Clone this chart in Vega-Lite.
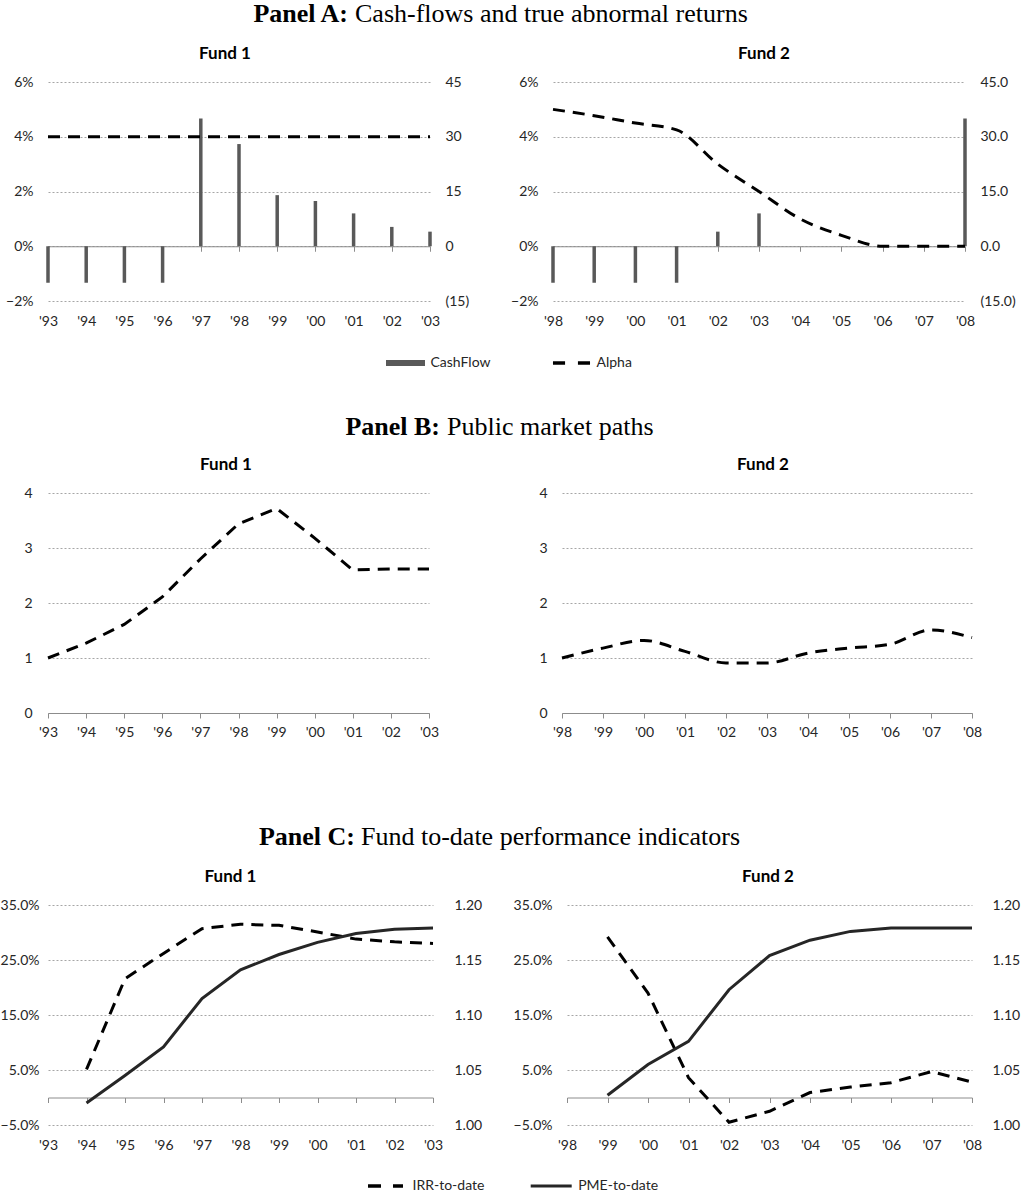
{
  "$schema": "https://vega.github.io/schema/vega-lite/v6.json",
  "background": "white",
  "padding": 0,
  "autosize": {"type": "pad"},
  "spacing": 0,
  "resolve": {"scale": {"shape": "independent", "color": "independent", "x": "independent"}},
  "datasets": {
    "a1": [
      {"year": 1993, "cf": -10, "alpha": 0.04},
      {"year": 1994, "cf": -10, "alpha": 0.04},
      {"year": 1995, "cf": -10, "alpha": 0.04},
      {"year": 1996, "cf": -10, "alpha": 0.04},
      {"year": 1997, "cf": 35, "alpha": 0.04},
      {"year": 1998, "cf": 28, "alpha": 0.04},
      {"year": 1999, "cf": 14, "alpha": 0.04},
      {"year": 2000, "cf": 12.4, "alpha": 0.04},
      {"year": 2001, "cf": 9, "alpha": 0.04},
      {"year": 2002, "cf": 5.3, "alpha": 0.04},
      {"year": 2003, "cf": 4, "alpha": 0.04}
    ],
    "a2": [
      {"year": 1998, "cf": -10, "alpha": 0.05},
      {"year": 1999, "cf": -10, "alpha": 0.0477},
      {"year": 2000, "cf": -10, "alpha": 0.045},
      {"year": 2001, "cf": -10, "alpha": 0.0425},
      {"year": 2002, "cf": 4, "alpha": 0.03},
      {"year": 2003, "cf": 9, "alpha": 0.02},
      {"year": 2004, "cf": 0, "alpha": 0.01},
      {"year": 2005, "cf": 0, "alpha": 0.004},
      {"year": 2006, "cf": 0, "alpha": 0},
      {"year": 2007, "cf": 0, "alpha": 0},
      {"year": 2008, "cf": 35, "alpha": 0}
    ],
    "b1": [
      {"year": 1993, "v": 1.0},
      {"year": 1994, "v": 1.27},
      {"year": 1995, "v": 1.61},
      {"year": 1996, "v": 2.11},
      {"year": 1997, "v": 2.8},
      {"year": 1998, "v": 3.44},
      {"year": 1999, "v": 3.72},
      {"year": 2000, "v": 3.18},
      {"year": 2001, "v": 2.6},
      {"year": 2002, "v": 2.62},
      {"year": 2003, "v": 2.62}
    ],
    "b2": [
      {"year": 1998, "v": 1.0},
      {"year": 1999, "v": 1.18},
      {"year": 2000, "v": 1.32},
      {"year": 2001, "v": 1.12},
      {"year": 2002, "v": 0.91},
      {"year": 2003, "v": 0.91},
      {"year": 2004, "v": 1.09},
      {"year": 2005, "v": 1.18},
      {"year": 2006, "v": 1.25},
      {"year": 2007, "v": 1.51},
      {"year": 2008, "v": 1.37}
    ],
    "c1": [
      {"year": 1994, "irr": 0.051, "pme": 1.020},
      {"year": 1995, "irr": 0.216, "pme": 1.045},
      {"year": 1996, "irr": 0.262, "pme": 1.071},
      {"year": 1997, "irr": 0.307, "pme": 1.115},
      {"year": 1998, "irr": 0.315, "pme": 1.141},
      {"year": 1999, "irr": 0.313, "pme": 1.155},
      {"year": 2000, "irr": 0.301, "pme": 1.166},
      {"year": 2001, "irr": 0.288, "pme": 1.174},
      {"year": 2002, "irr": 0.283, "pme": 1.178},
      {"year": 2003, "irr": 0.280, "pme": 1.179}
    ],
    "c2": [
      {"year": 1999, "irr": 0.292, "pme": 1.027},
      {"year": 2000, "irr": 0.19, "pme": 1.055},
      {"year": 2001, "irr": 0.036, "pme": 1.076},
      {"year": 2002, "irr": -0.045, "pme": 1.123},
      {"year": 2003, "irr": -0.025, "pme": 1.154},
      {"year": 2004, "irr": 0.009, "pme": 1.168},
      {"year": 2005, "irr": 0.019, "pme": 1.176},
      {"year": 2006, "irr": 0.027, "pme": 1.179},
      {"year": 2007, "irr": 0.047, "pme": 1.179},
      {"year": 2008, "irr": 0.028, "pme": 1.179}
    ]
  },
  "vconcat": [
    {
      "width": 960, "height": 45,
      "data": {"values": [{"b": "Panel A:", "r": "Cash-flows and true abnormal returns"}]},
      "layer": [
        {"mark": {"type": "text", "align": "right", "baseline": "alphabetic", "font": "Liberation Serif", "fontSize": 26, "fontWeight": "bold", "color": "#000000", "dx": -180, "dy": -1}, "encoding": {"text": {"field": "b"}}},
        {"mark": {"type": "text", "align": "left", "baseline": "alphabetic", "font": "Liberation Serif", "fontSize": 26, "fontWeight": "normal", "color": "#000000", "dx": -173, "dy": -1}, "encoding": {"text": {"field": "r"}}}
      ]
    },
    {
      "bounds": "flush",
      "spacing": 123,
      "hconcat": [
        {
          "width": 382, "height": 219,
          "title": {"text": "Fund 1", "dx": -14, "offset": 12},
          "data": {"name": "a1"},
          "encoding": {"x": {"field": "year", "type": "ordinal", "scale": {"type": "point", "padding": 0, "domain": [1993, 1994, 1995, 1996, 1997, 1998, 1999, 2000, 2001, 2002, 2003]}, "axis": {"title": null, "offset": -54.75, "labelPadding": 63.5, "labelExpr": "\"'\" + substring(toString(datum.value), 2)"}}},
          "layer": [
            {"mark": {"type": "rule", "color": "#595959", "strokeWidth": 3.5},
             "encoding": {"y": {"field": "cf", "type": "quantitative", "scale": {"domain": [-15, 45], "nice": false, "zero": false}, "axis": {"title": null, "orient": "right", "values": [-15, 0, 15, 30, 45], "labelPadding": 15, "labelExpr": "datum.value < 0 ? '(' + format(-datum.value, 'd') + ')' : format(datum.value, 'd')"}}, "y2": {"datum": 0}}},
            {"mark": {"type": "line", "color": "#000000", "strokeWidth": 3, "strokeDash": [12, 8]},
             "encoding": {"y": {"field": "alpha", "type": "quantitative", "scale": {"domain": [-0.02, 0.06], "nice": false, "zero": false}, "axis": {"title": null, "orient": "left", "values": [-0.02, 0, 0.02, 0.04, 0.06], "format": ".0%", "grid": true, "labelPadding": 15, "minExtent": 48}}}}
          ],
          "resolve": {"scale": {"y": "independent"}}
        },
        {
          "width": 412, "height": 219,
          "title": {"text": "Fund 2", "dx": 5, "offset": 12},
          "data": {"name": "a2"},
          "encoding": {"x": {"field": "year", "type": "ordinal", "scale": {"type": "point", "padding": 0, "domain": [1998, 1999, 2000, 2001, 2002, 2003, 2004, 2005, 2006, 2007, 2008]}, "axis": {"title": null, "offset": -54.75, "labelPadding": 63.5, "labelExpr": "\"'\" + substring(toString(datum.value), 2)"}}},
          "layer": [
            {"mark": {"type": "rule", "color": "#595959", "strokeWidth": 3.5},
             "encoding": {"y": {"field": "cf", "type": "quantitative", "scale": {"domain": [-15, 45], "nice": false, "zero": false}, "axis": {"title": null, "orient": "right", "values": [-15, 0, 15, 30, 45], "labelPadding": 15, "labelExpr": "datum.value < 0 ? '(' + format(-datum.value, '.1f') + ')' : format(datum.value, '.1f')"}}, "y2": {"datum": 0}}},
            {"mark": {"type": "line", "color": "#000000", "strokeWidth": 3, "strokeDash": [12, 8], "interpolate": "monotone"},
             "encoding": {"y": {"field": "alpha", "type": "quantitative", "scale": {"domain": [-0.02, 0.06], "nice": false, "zero": false}, "axis": {"title": null, "orient": "left", "values": [-0.02, 0, 0.02, 0.04, 0.06], "format": ".0%", "grid": true, "labelPadding": 15}}}}
          ],
          "resolve": {"scale": {"y": "independent"}}
        }
      ]
    },
    {
      "width": 977, "height": 62,
      "data": {"values": [{"s": "CashFlow"}, {"s": "Alpha"}]},
      "encoding": {"x": {"field": "s", "type": "nominal", "scale": {"type": "point", "domain": ["CashFlow", "Alpha"], "range": [357.5, 523.5], "padding": 0}, "axis": null}},
      "layer": [
        {"mark": {"type": "point", "filled": true, "size": 1521, "opacity": 1, "strokeWidth": 0, "yOffset": 3},
         "encoding": {
           "shape": {"field": "s", "type": "nominal", "scale": {"domain": ["CashFlow", "Alpha"], "range": ["M-1,-0.154H1V0.154H-1Z", "M-0.95,-0.09H-0.33V0.09H-0.95Z M0.33,-0.09H0.95V0.09H0.33Z"]}, "legend": null},
           "color": {"field": "s", "type": "nominal", "scale": {"domain": ["CashFlow", "Alpha"], "range": ["#595959", "#000000"]}, "legend": null}}},
        {"mark": {"type": "text", "align": "left", "baseline": "middle", "dx": 25, "dy": 3, "font": "Lato", "fontSize": 14, "color": "#262626"},
         "encoding": {"text": {"field": "s"}}}
      ]
    },
    {
      "width": 960, "height": 65,
      "data": {"values": [{"b": "Panel B:", "r": "Public market paths"}]},
      "layer": [
        {"mark": {"type": "text", "align": "right", "baseline": "alphabetic", "font": "Liberation Serif", "fontSize": 26, "fontWeight": "bold", "color": "#000000", "dx": -88, "dy": 11}, "encoding": {"text": {"field": "b"}}},
        {"mark": {"type": "text", "align": "left", "baseline": "alphabetic", "font": "Liberation Serif", "fontSize": 26, "fontWeight": "normal", "color": "#000000", "dx": -81, "dy": 11}, "encoding": {"text": {"field": "r"}}}
      ]
    },
    {
      "bounds": "flush",
      "spacing": 133,
      "hconcat": [
        {
          "width": 381, "height": 220,
          "title": {"text": "Fund 1", "dx": -12.5, "offset": 12},
          "data": {"name": "b1"},
          "mark": {"type": "line", "color": "#000000", "strokeWidth": 3, "strokeDash": [12, 8]},
          "encoding": {
            "x": {"field": "year", "type": "ordinal", "scale": {"type": "point", "padding": 0, "domain": [1993, 1994, 1995, 1996, 1997, 1998, 1999, 2000, 2001, 2002, 2003]}, "axis": {"title": null, "labelPadding": 7.3, "labelExpr": "\"'\" + substring(toString(datum.value), 2)"}},
            "y": {"field": "v", "type": "quantitative", "scale": {"domain": [0, 4], "nice": false}, "axis": {"title": null, "values": [0, 1, 2, 3, 4], "format": "d", "grid": true, "labelPadding": 16, "minExtent": 48}}
          }
        },
        {
          "width": 410, "height": 220,
          "title": {"text": "Fund 2", "dx": -4, "offset": 12},
          "data": {"name": "b2"},
          "mark": {"type": "line", "color": "#000000", "strokeWidth": 3, "strokeDash": [12, 8], "interpolate": "monotone"},
          "encoding": {
            "x": {"field": "year", "type": "ordinal", "scale": {"type": "point", "padding": 0, "domain": [1998, 1999, 2000, 2001, 2002, 2003, 2004, 2005, 2006, 2007, 2008]}, "axis": {"title": null, "labelPadding": 7.3, "labelExpr": "\"'\" + substring(toString(datum.value), 2)"}},
            "y": {"field": "v", "type": "quantitative", "scale": {"domain": [0, 4], "nice": false}, "axis": {"title": null, "values": [0, 1, 2, 3, 4], "format": "d", "grid": true, "labelPadding": 15}}
          }
        }
      ]
    },
    {
      "width": 960, "height": 128,
      "data": {"values": [{"b": "Panel C:", "r": "Fund to-date performance indicators"}]},
      "layer": [
        {"mark": {"type": "text", "align": "right", "baseline": "alphabetic", "font": "Liberation Serif", "fontSize": 26, "fontWeight": "bold", "color": "#000000", "dx": -173, "dy": 41.4}, "encoding": {"text": {"field": "b"}}},
        {"mark": {"type": "text", "align": "left", "baseline": "alphabetic", "font": "Liberation Serif", "fontSize": 26, "fontWeight": "normal", "color": "#000000", "dx": -167, "dy": 41.4}, "encoding": {"text": {"field": "r"}}}
      ]
    },
    {
      "bounds": "flush",
      "spacing": 134,
      "hconcat": [
        {
          "width": 385, "height": 220,
          "title": {"text": "Fund 1", "dx": -10, "offset": 12},
          "data": {"name": "c1"},
          "encoding": {"x": {"field": "year", "type": "ordinal", "scale": {"type": "point", "padding": 0, "domain": [1993, 1994, 1995, 1996, 1997, 1998, 1999, 2000, 2001, 2002, 2003]}, "axis": {"title": null, "offset": -27.5, "labelPadding": 35.5, "labelExpr": "\"'\" + substring(toString(datum.value), 2)"}}},
          "layer": [
            {"mark": {"type": "line", "color": "#000000", "strokeWidth": 3, "strokeDash": [12, 8]},
             "encoding": {"y": {"field": "irr", "type": "quantitative", "scale": {"domain": [-0.05, 0.35], "nice": false, "zero": false}, "axis": {"title": null, "orient": "left", "values": [-0.05, 0.05, 0.15, 0.25, 0.35], "format": ".1%", "grid": true, "labelPadding": 9, "minExtent": 48}}}},
            {"mark": {"type": "line", "color": "#262626", "strokeWidth": 3},
             "encoding": {"y": {"field": "pme", "type": "quantitative", "scale": {"domain": [1.0, 1.2], "nice": false, "zero": false}, "axis": {"title": null, "orient": "right", "values": [1.0, 1.05, 1.1, 1.15, 1.2], "format": ".2f", "labelPadding": 21}}}}
          ],
          "resolve": {"scale": {"y": "independent"}}
        },
        {
          "width": 405, "height": 220,
          "title": {"text": "Fund 2", "dx": -1.5, "offset": 12},
          "data": {"name": "c2"},
          "encoding": {"x": {"field": "year", "type": "ordinal", "scale": {"type": "point", "padding": 0, "domain": [1998, 1999, 2000, 2001, 2002, 2003, 2004, 2005, 2006, 2007, 2008]}, "axis": {"title": null, "offset": -27.5, "labelPadding": 35.5, "labelExpr": "\"'\" + substring(toString(datum.value), 2)"}}},
          "layer": [
            {"mark": {"type": "line", "color": "#000000", "strokeWidth": 3, "strokeDash": [12, 8]},
             "encoding": {"y": {"field": "irr", "type": "quantitative", "scale": {"domain": [-0.05, 0.35], "nice": false, "zero": false}, "axis": {"title": null, "orient": "left", "values": [-0.05, 0.05, 0.15, 0.25, 0.35], "format": ".1%", "grid": true, "labelPadding": 15}}}},
            {"mark": {"type": "line", "color": "#262626", "strokeWidth": 3},
             "encoding": {"y": {"field": "pme", "type": "quantitative", "scale": {"domain": [1.0, 1.2], "nice": false, "zero": false}, "axis": {"title": null, "orient": "right", "values": [1.0, 1.05, 1.1, 1.15, 1.2], "format": ".2f", "labelPadding": 20}}}}
          ],
          "resolve": {"scale": {"y": "independent"}}
        }
      ]
    },
    {
      "width": 937, "height": 41,
      "data": {"values": [{"s": "IRR-to-date"}, {"s": "PME-to-date"}]},
      "encoding": {"x": {"field": "s", "type": "nominal", "scale": {"type": "point", "domain": ["IRR-to-date", "PME-to-date"], "range": [337.5, 503.2], "padding": 0}, "axis": null}},
      "layer": [
        {"mark": {"type": "point", "filled": true, "size": 1764, "opacity": 1, "strokeWidth": 0, "yOffset": 13.5},
         "encoding": {
           "shape": {"field": "s", "type": "nominal", "scale": {"domain": ["IRR-to-date", "PME-to-date"], "range": ["M-0.833,-0.08H-0.214V0.08H-0.833Z M0.357,-0.08H0.833V0.08H0.357Z", "M-0.976,-0.071H0.976V0.071H-0.976Z"]}, "legend": null},
           "color": {"field": "s", "type": "nominal", "scale": {"domain": ["IRR-to-date", "PME-to-date"], "range": ["#000000", "#262626"]}, "legend": null}}},
        {"mark": {"type": "text", "align": "left", "baseline": "middle", "dx": 27, "dy": 13.5, "font": "Lato", "fontSize": 14, "color": "#262626"},
         "encoding": {"text": {"field": "s"}}}
      ]
    }
  ],
  "config": {
    "view": {"stroke": null},
    "axis": {
      "labelFont": "Lato",
      "labelFontSize": 14,
      "labelColor": "#262626",
      "domain": false,
      "ticks": false,
      "grid": false,
      "gridColor": "#a6a6a6",
      "gridDash": [2, 2],
      "gridWidth": 1,
      "labelOverlap": false,
      "labelFlush": false
    },
    "axisX": {
      "domain": true,
      "domainColor": "#8c8c8c",
      "ticks": true,
      "tickColor": "#8c8c8c",
      "tickSize": 5,
      "labelAngle": 0
    },
    "title": {
      "font": "Lato",
      "fontSize": 17,
      "fontWeight": "bold",
      "color": "#000000",
      "anchor": "middle",
      "frame": "group"
    }
  }
}
